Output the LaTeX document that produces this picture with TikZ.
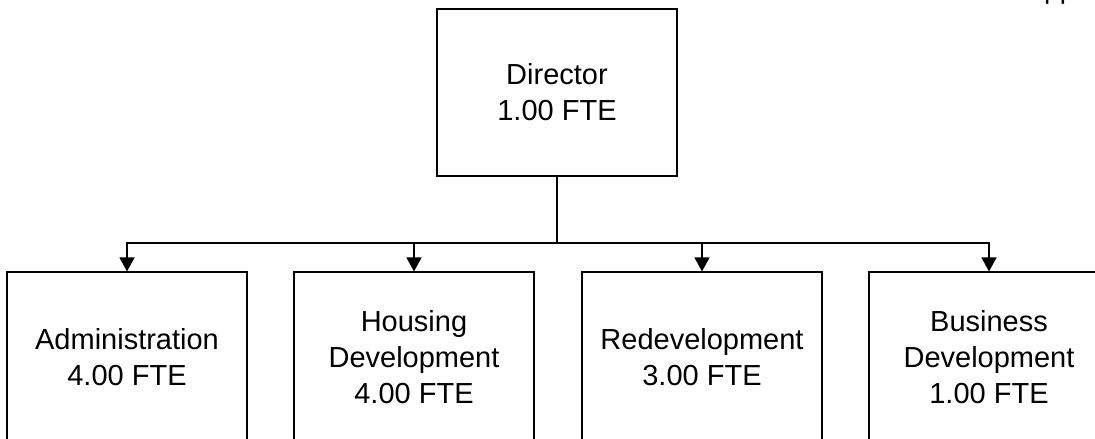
\documentclass[tikz,border=0pt]{standalone}
\usepackage{fontspec}
\setmainfont{Liberation Sans}
\usetikzlibrary{arrows.meta}
\begin{document}
\begin{tikzpicture}[x=1pt,y=1pt,
  unitbox/.style={draw=black, line width=1.1pt, minimum width=240pt, minimum height=167pt,
    align=center, inner sep=0pt, font=\fontsize{29}{36}\selectfont},
  conn/.style={line width=1.3pt},
  arr/.style={conn, -{Triangle[length=14pt,width=15pt]}}]
\useasboundingbox (0,0) rectangle (1095,439);
\node[unitbox] (dir) at (557,346.5) {Director\\1.00 FTE};
\node[unitbox, minimum height=171pt] (adm) at (127,81.5) {Administration\\4.00 FTE};
\node[unitbox, minimum height=171pt] (hou) at (414,81.5) {Housing\\Development\\4.00 FTE};
\node[unitbox, minimum height=171pt] (red) at (702,81.5) {Redevelopment\\3.00 FTE};
\node[unitbox, minimum height=171pt] (bus) at (989,81.5) {Business\\Development\\1.00 FTE};
\coordinate (hub) at (557,196);
\draw[conn] (dir.south) -- (hub);
\draw[arr] (hub) -| (adm.north);
\draw[arr] (hub) -| (hou.north);
\draw[arr] (hub) -| (red.north);
\draw[arr] (hub) -| (bus.north);
\node[anchor=base west, inner sep=0pt, font=\fontsize{28}{34}\selectfont] (frag) at (1044,440) {pp};
\end{tikzpicture}
\end{document}
